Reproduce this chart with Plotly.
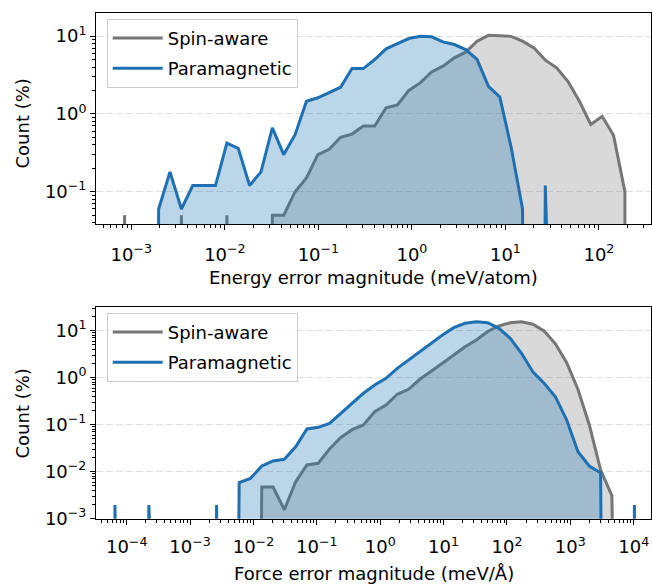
import numpy as np
import plotly.graph_objects as go

# Histogram bin centres (log-spaced) for the two error distributions
energy_centers = np.logspace(-3.073, 2.278, 45)   # meV/atom
force_centers = np.logspace(-4.185, 4.012, 47)    # meV/Å

# Percent of structures per bin, energy errors
energy_spin = [0.05, 0, 0, 0, 0, 0.05, 0, 0, 0, 0.05, 0, 0, 0, 0.05, 0.05,
               0.10, 0.15, 0.30, 0.35, 0.50, 0.55, 0.70, 0.70, 1.20, 1.30,
               2.0, 2.5, 3.45, 4.1, 5.25, 6.2, 8.6, 10.2, 10.1, 9.9, 8.6,
               7.05, 4.9, 3.9, 2.6, 1.45, 0.73, 0.93, 0.53, 0.10]
energy_para = [0, 0, 0, 0.06, 0.18, 0.06, 0.12, 0.12, 0.12, 0.42, 0.36, 0.12,
               0.18, 0.66, 0.30, 0.54, 1.45, 1.61, 1.90, 2.20, 3.82, 3.82,
               4.99, 6.84, 8.01, 9.29, 9.94, 9.77, 8.42, 7.78, 6.70, 5.0,
               2.26, 1.65, 0.37, 0.06, 0, 0.12, 0, 0, 0, 0, 0, 0, 0]

# Percent of atoms per bin, force errors
force_spin = [0, 0, 0, 0, 0, 0, 0, 0, 0, 0, 0, 0, 0, 0.0047, 0.0047, 0.00155,
              0.0061, 0.0139, 0.0151, 0.0304, 0.0535, 0.0783, 0.0986, 0.189,
              0.262, 0.444, 0.566, 0.925, 1.34, 2.02, 3.04, 4.57, 6.34, 9.62,
              12.6, 14.8, 15.5, 13.7, 9.86, 5.25, 2.09, 0.56, 0.10, 0.011,
              0.0031, 0, 0]
force_para = [0.00195, 0, 0, 0.00195, 0, 0, 0, 0, 0, 0.00195, 0, 0.00585,
              0.0072, 0.0132, 0.0169, 0.0184, 0.034, 0.081, 0.088, 0.107,
              0.175, 0.294, 0.466, 0.70, 0.97, 1.58, 2.38, 3.57, 5.40, 8.11,
              11.6, 14.4, 15.5, 14.8, 11.2, 6.89, 3.30, 1.34, 0.76, 0.394,
              0.126, 0.0267, 0.0132, 0.0095, 0, 0, 0.00195]

series_names = ["Spin-aware", "Paramagnetic"]
line_colors = ["#767676", "#1f70b2"]
fill_colors = ["rgba(128,128,128,0.3)", "rgba(31,119,180,0.3)"]

# empty bins (and both ends) go far below the axis, as on a clipped log scale
FLOOR = 1e-30


def curve(centers, vals):
    xs = [centers[0]] + list(centers) + [centers[-1]]
    ys = [FLOOR] + [v if v > 0 else FLOOR for v in vals] + [FLOOR]
    return xs, ys


fig = go.Figure()

panels = [
    ("x", "y", "legend", energy_centers, [energy_spin, energy_para]),
    ("x2", "y2", "legend2", force_centers, [force_spin, force_para]),
]
for xa, ya, leg, centers, series in panels:
    for i, vals in enumerate(series):
        xs, ys = curve(centers, vals)
        fig.add_trace(go.Scatter(
            x=xs, y=ys, fill="toself", fillcolor=fill_colors[i], mode="none",
            hoverinfo="skip", showlegend=False, xaxis=xa, yaxis=ya))
        fig.add_trace(go.Scatter(
            x=xs, y=ys, mode="lines", name=series_names[i],
            line=dict(color=line_colors[i], width=3),
            legend=leg, legendgroup=f"{leg}-{i}",
            xaxis=xa, yaxis=ya))


def sup(e):
    return "10<sup>" + (str(e) if e >= 0 else "\u2212" + str(-e)) + "</sup>"


def minor_vals(lo, hi):
    return [m * 10.0 ** d for d in range(lo, hi) for m in range(2, 10)]


tick_font = dict(family="DejaVu Sans", size=18, color="black")
axis_common = dict(type="log", showline=True, mirror=True, linecolor="black",
                   linewidth=1, ticks="outside", ticklen=5, tickwidth=1,
                   tickcolor="black", zeroline=False, tickfont=tick_font,
                   automargin=False)

e_x_exp = list(range(-3, 3))
f_x_exp = list(range(-4, 5))
e_y_exp = [-1, 0, 1]
f_y_exp = [-3, -2, -1, 0, 1]

minor_common = dict(ticks="outside", ticklen=3, tickwidth=1,
                    tickcolor="black", showgrid=False)
grid_style = dict(showgrid=True, gridcolor="#dedede", griddash="7px,3px",
                  gridwidth=1)
legend_style = dict(xanchor="left", yanchor="top",
                    bgcolor="rgba(255,255,255,0.8)", bordercolor="#cccccc",
                    borderwidth=1, tracegroupgap=4, itemwidth=50,
                    font=dict(family="DejaVu Sans", size=18, color="black"))

fig.update_layout(
    width=652, height=584,
    margin=dict(l=96, r=1, t=0, b=0, pad=0, autoexpand=False),
    paper_bgcolor="white", plot_bgcolor="white",
    font=dict(family="DejaVu Sans", size=18, color="black"),
    xaxis=dict(axis_common, domain=[0, 1], anchor="y",
               range=[-3.378, 2.557], showgrid=False, ticklabelstandoff=9,
               tickvals=[10.0 ** e for e in e_x_exp],
               ticktext=[sup(e) for e in e_x_exp],
               minor=dict(minor_common, tickvals=minor_vals(-4, 3))),
    yaxis=dict(axis_common, **grid_style, domain=[0.6164, 0.9783],
               anchor="x", range=[-1.415, 1.30],
               tickvals=[10.0 ** e for e in e_y_exp],
               ticktext=[sup(e) for e in e_y_exp],
               minor=dict(minor_common, tickvals=minor_vals(-2, 2))),
    xaxis2=dict(axis_common, domain=[0, 1], anchor="y2",
                range=[-4.484, 4.273], showgrid=False, ticklabelstandoff=7,
                tickvals=[10.0 ** e for e in f_x_exp],
                ticktext=[sup(e) for e in f_x_exp],
                minor=dict(minor_common, tickvals=minor_vals(-5, 5))),
    yaxis2=dict(axis_common, **grid_style, domain=[0.1118, 0.4748],
                anchor="x2", range=[-3.0, 1.51],
                tickvals=[10.0 ** e for e in f_y_exp],
                ticktext=[sup(e) for e in f_y_exp],
                minor=dict(minor_common, tickvals=minor_vals(-3, 2))),
    legend=dict(legend_style, x=0.0193, y=0.968),
    legend2=dict(legend_style, x=0.0193, y=0.4645),
)

title_font = dict(family="DejaVu Sans", size=18, color="black")
fig.add_annotation(text="Energy error magnitude (meV/atom)", xref="paper",
                   yref="paper", x=0.5, y=1 - 277 / 584, showarrow=False,
                   xanchor="center", yanchor="middle", font=title_font)
fig.add_annotation(text="Force error magnitude (meV/Å)", xref="paper",
                   yref="paper", x=0.5, y=1 - 573 / 584, showarrow=False,
                   xanchor="center", yanchor="middle", font=title_font)
fig.add_annotation(text="Count (%)", xref="paper", yref="paper",
                   x=(22.5 - 96) / 555, y=1 - 124 / 584, showarrow=False,
                   textangle=-90, xanchor="center", yanchor="middle",
                   font=title_font)
fig.add_annotation(text="Count (%)", xref="paper", yref="paper",
                   x=(22.5 - 96) / 555, y=1 - 414 / 584, showarrow=False,
                   textangle=-90, xanchor="center", yanchor="middle",
                   font=title_font)

fig.write_html("out.html")
